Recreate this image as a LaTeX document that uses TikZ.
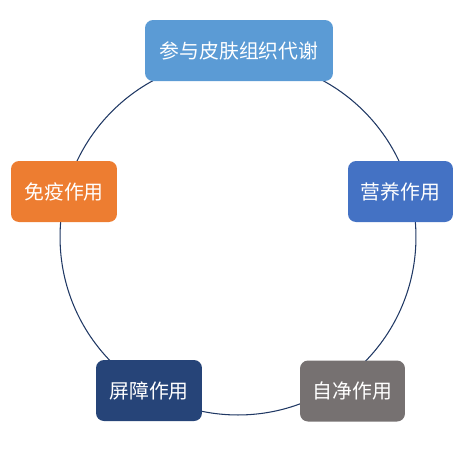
\documentclass[tikz,border=0pt]{standalone}
\usepackage{fontspec}
\newfontfamily\cjk{Noto Sans CJK SC}
\usepackage{xcolor}
\definecolor{topblue}{HTML}{5B9BD5}
\definecolor{midblue}{HTML}{4472C4}
\definecolor{darkblue}{HTML}{264478}
\definecolor{orangebox}{HTML}{ED7D31}
\definecolor{greybox}{HTML}{767171}
\definecolor{ringline}{HTML}{203864}
\begin{document}
\begin{tikzpicture}[x=0.02cm,y=-0.02cm,
  fn/.style={rounded corners=0.16cm,minimum height=1.22cm,text=white,
    font=\cjk\fontsize{11.3}{13}\selectfont,inner sep=0pt}]
\useasboundingbox (0,0) rectangle (466,454);
\coordinate (o) at (238,237);
\draw[ringline,line width=0.6pt] (o) circle[radius=3.56cm];
\node[fn,fill=topblue,minimum width=3.76cm] at (239,50.5) (meta) {参与皮肤组织代谢};
\node[fn,fill=orangebox,minimum width=2.12cm] at (64,191.5) (immu) {免疫作用};
\node[fn,fill=midblue,minimum width=2.1cm] at (400.5,191.5) (nutr) {营养作用};
\node[fn,fill=darkblue,minimum width=2.12cm] at (149,390.5) (barr) {屏障作用};
\node[fn,fill=greybox,minimum width=2.1cm] at (352.5,391) (self) {自净作用};
\end{tikzpicture}
\end{document}
